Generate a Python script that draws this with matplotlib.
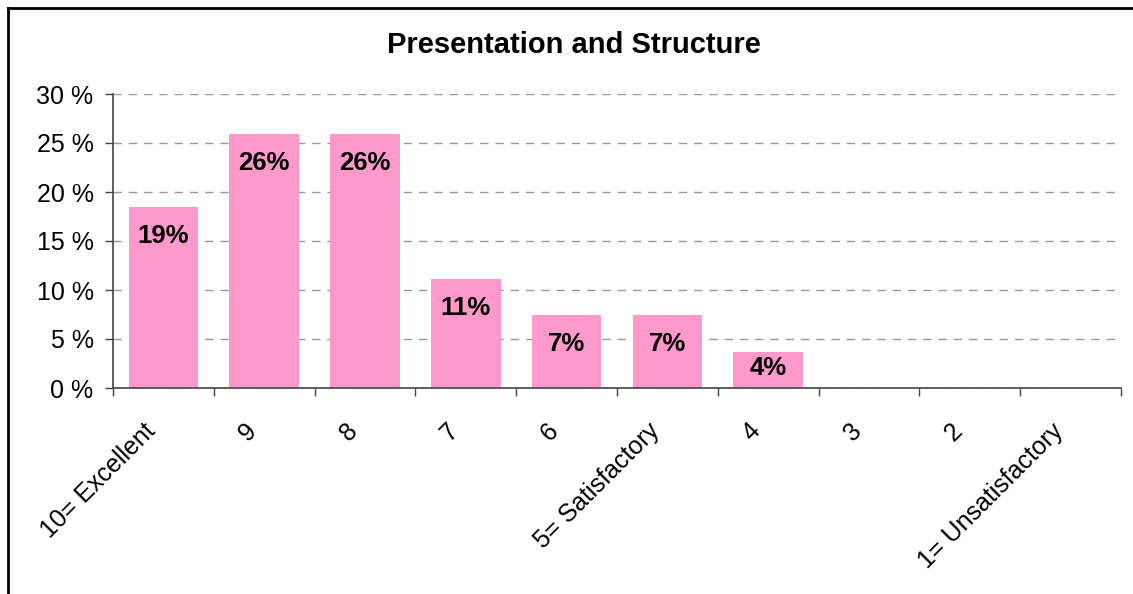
import matplotlib
matplotlib.use("Agg")
import matplotlib.pyplot as plt
from matplotlib.lines import Line2D
from matplotlib.transforms import ScaledTranslation
import numpy as np

categories = ["10= Excellent", "9", "8", "7", "6", "5= Satisfactory", "4", "3", "2", "1= Unsatisfactory"]
values = [18.5, 25.9, 25.9, 11.1, 7.4, 7.4, 3.7, 0, 0, 0]
labels = ["19%", "26%", "26%", "11%", "7%", "7%", "4%", "", "", ""]
yticks = [0, 5, 10, 15, 20, 25, 30]
ytick_labels = ["0 %", "5 %", "10 %", "15 %", "20 %", "25 %", "30 %"]
title = "Presentation and Structure"

plt.rcParams['font.family'] = ['Liberation Sans', 'DejaVu Sans']

W, H = 1133, 594
fig = plt.figure(figsize=(W / 100, H / 100), dpi=100)
ax = fig.add_axes([113 / W, 1 - 388 / H, (1121 - 113) / W, (388 - 94) / H])

x = np.arange(len(categories))
ax.bar(x, values, width=0.69, color="#FF99CC", zorder=2)

ax.set_xlim(-0.5, len(categories) - 0.5)
ax.set_ylim(0, 30)
ax.set_yticks(yticks)
ax.set_yticklabels(ytick_labels, fontsize=18)
ax.yaxis.grid(True, linestyle=(0, (6, 5)), color="#999999", linewidth=1.0, zorder=1)
ax.set_axisbelow(True)

# x ticks at category boundaries
ax.set_xticks(np.arange(-0.5, len(categories), 1.0))
ax.set_xticklabels([])
ax.set_xticks(x, minor=True)
ax.set_xticklabels(categories, minor=True, fontsize=18, rotation=45,
                   ha="right", va="top", rotation_mode="anchor")
ax.tick_params(axis="x", which="minor", length=0, pad=22)
ax.tick_params(axis="x", which="major", length=6, width=1, color="#444444", direction="out")
ax.tick_params(axis="y", length=6, width=1, color="#444444", pad=8)
shift = ScaledTranslation(-20 / 100, 0, fig.dpi_scale_trans)
for lbl in ax.get_xticklabels(minor=True):
    lbl.set_transform(lbl.get_transform() + shift)

for s in ["top", "right"]:
    ax.spines[s].set_visible(False)
for s in ["left", "bottom"]:
    ax.spines[s].set_color("#444444")
    ax.spines[s].set_linewidth(1.2)

# data labels inside end
px_per_unit = (388 - 94) / 30.0
for xi, v, lab in zip(x, values, labels):
    if not lab:
        continue
    hpx = v * px_per_unit
    off = min(17, (hpx - 16) / 2 - 6)
    ax.annotate(lab, xy=(xi, v), xytext=(0, -off * 0.72), textcoords="offset points",
                ha="center", va="top", fontsize=18.5, fontweight="bold", zorder=3)

fig.text(574 / W, 1 - 45 / H, title, ha="center", va="center", fontsize=21, fontweight="bold")

# chart area border (left and top visible)
fig.add_artist(Line2D([8 / W, 8 / W], [0, 1 - 8 / H], transform=fig.transFigure, color="black", linewidth=2))
fig.add_artist(Line2D([8 / W, 1], [1 - 8 / H, 1 - 8 / H], transform=fig.transFigure, color="black", linewidth=2))

fig.savefig("out.png", dpi=100, facecolor="white")
